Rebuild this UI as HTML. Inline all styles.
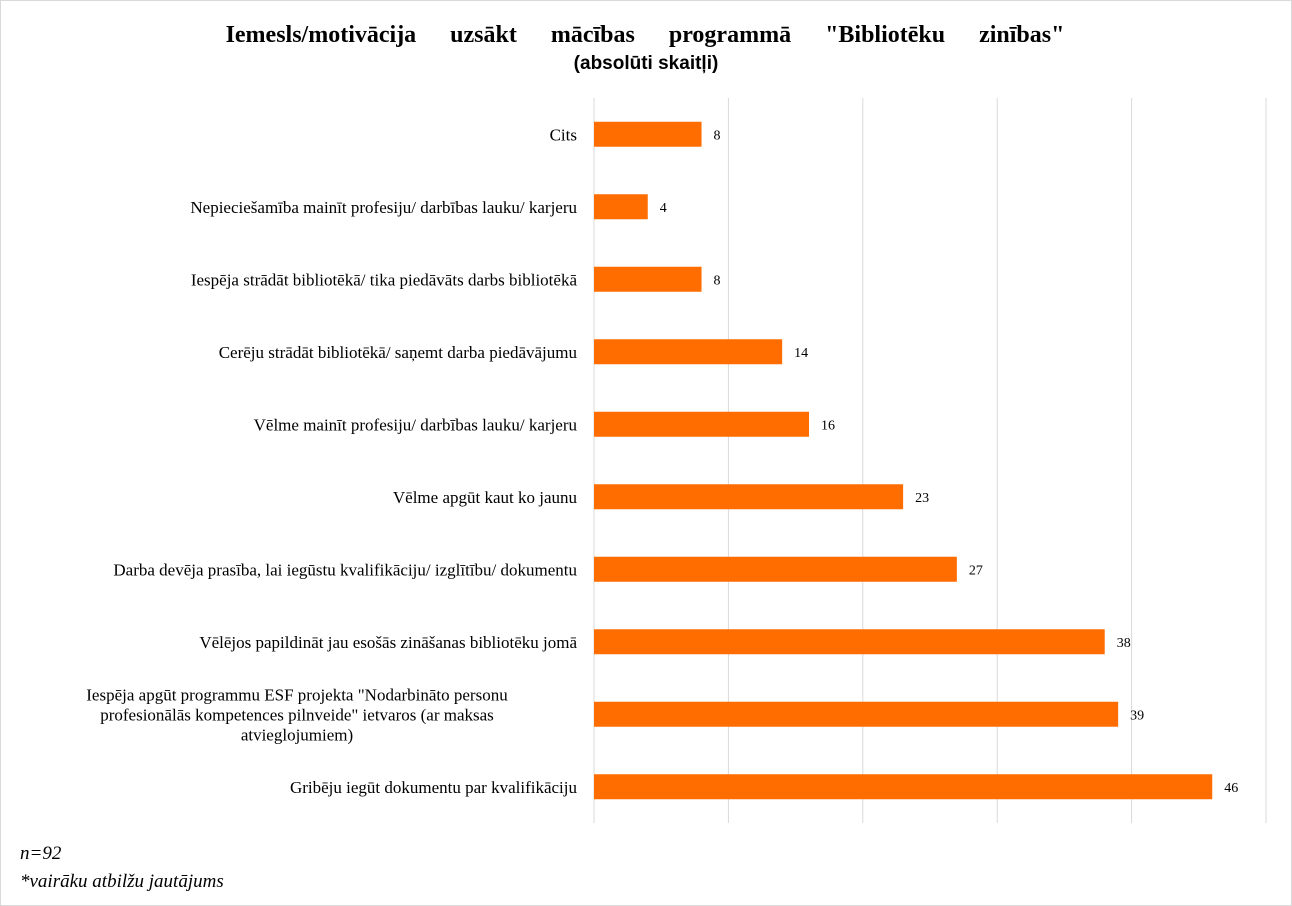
<!DOCTYPE html>
<html><head><meta charset="utf-8">
<style>
body{margin:0;background:#fff;}
#chart{position:relative;width:1292px;height:906px;overflow:hidden;}
svg text{font-family:"Liberation Serif",serif;}
</style></head>
<body>
<div id="chart">
<svg id="svg" width="1292" height="906" xmlns="http://www.w3.org/2000/svg">
<rect x="0.5" y="0.5" width="1291" height="905" fill="#fff" stroke="#d9d9d9"/>
<text x="645" y="42" text-anchor="middle" font-size="24" font-weight="bold" word-spacing="28">Iemesls/motivācija uzsākt mācības programmā "Bibliotēku zinības"</text>
<text x="646" y="69" text-anchor="middle" font-size="19" font-weight="bold" style="font-family:'Liberation Sans',sans-serif">(absolūti skaitļi)</text>
<g id="grid"></g>
<g id="bars"></g>
<g id="labels"></g>
<text x="20" y="859" font-size="19" font-style="italic">n=92</text>
<text x="20" y="887" font-size="19" font-style="italic">*vairāku atbilžu jautājums</text>
</svg>
</div>
<script>
const categories=["Cits","Nepieciešamība mainīt profesiju/ darbības lauku/ karjeru","Iespēja strādāt bibliotēkā/ tika piedāvāts darbs bibliotēkā","Cerēju strādāt bibliotēkā/ saņemt darba piedāvājumu","Vēlme mainīt profesiju/ darbības lauku/ karjeru","Vēlme apgūt kaut ko jaunu","Darba devēja prasība, lai iegūstu kvalifikāciju/ izglītību/ dokumentu","Vēlējos papildināt jau esošās zināšanas bibliotēku jomā","Iespēja apgūt programmu ESF projekta \"Nodarbināto personu|profesionālās kompetences pilnveide\"    ietvaros (ar maksas|atvieglojumiem)","Gribēju iegūt dokumentu par kvalifikāciju"];
const values=[8,4,8,14,16,23,27,38,39,46];
const ticks=[0,10,20,30,40,50];
const NS="http://www.w3.org/2000/svg";
const x0=594,x1=1266,vmax=50,yTop=98,yBottom=823;
const xs=v=>x0+(x1-x0)*v/vmax;
const band=(yBottom-yTop)/categories.length;
const yc=i=>yTop+band*(i+0.5);
function mk(tag,attrs,parent){const e=document.createElementNS(NS,tag);for(const k in attrs)e.setAttribute(k,attrs[k]);document.getElementById(parent).appendChild(e);return e;}
ticks.forEach(t=>{
 const l=mk('line',{x1:xs(t),x2:xs(t),y1:yTop,y2:yBottom,stroke:'#d9d9d9','stroke-width':1},'grid');
 
 
});
const bh=25;
values.forEach((v,i)=>{
 const r=mk('rect',{x:x0,y:yc(i)-bh/2,width:xs(v)-x0,height:bh,fill:'#ff6d00'},'bars');
 
 
 const t=mk('text',{x:xs(v)+12,y:yc(i)+5,'font-size':14},'labels');
 t.textContent=v;
 
 
 const lines=categories[i].split('|');
 const multi=lines.length>1;
 const c=mk('text',{'font-size':17,'text-anchor':multi?'middle':'end'},'labels');
 
 
 lines.forEach((s,j)=>{const ts=document.createElementNS(NS,'tspan');ts.setAttribute('x',multi?297:577);ts.setAttribute('y',yc(i)+6+(j-(lines.length-1)/2)*20);ts.textContent=s;c.appendChild(ts);});
});
</script>
</body></html>
